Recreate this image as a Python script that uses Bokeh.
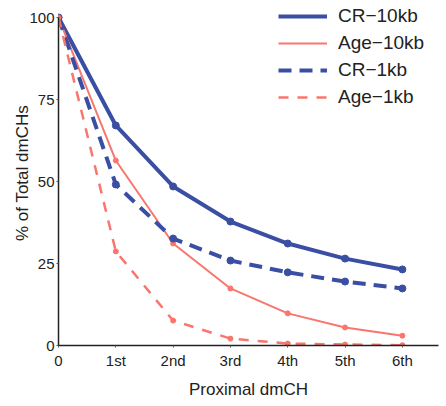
from bokeh.plotting import figure
from bokeh.models import Range1d, Legend, LegendItem, FixedTicker
from bokeh.embed import file_html
from bokeh.resources import INLINE

positions = [0, 1, 2, 3, 4, 5, 6]
tick_labels = ["0", "1st", "2nd", "3rd", "4th", "5th", "6th"]
y_ticks = [0, 25, 50, 75, 100]

cr_10kb = [100, 67.1, 48.5, 37.8, 31.1, 26.5, 23.2]
age_10kb = [100, 56.4, 31.1, 17.4, 9.8, 5.5, 3.0]
cr_1kb = [100, 49.1, 32.6, 25.9, 22.3, 19.5, 17.4]
age_1kb = [100, 28.7, 7.6, 2.1, 0.6, 0.3, 0.1]

BLUE = "#3A4FA3"
RED = "#F8766D"
FONT = "Liberation Sans"
TXT = "#222222"

p = figure(width=446, height=406, output_backend="svg", toolbar_location=None,
           x_range=Range1d(0, 6.63), y_range=Range1d(0, 105.2),
           min_border_left=58, min_border_right=8, min_border_top=0, min_border_bottom=61)
p.outline_line_color = None
p.xgrid.visible = False
p.ygrid.visible = False
p.background_fill_color = "white"
p.border_fill_color = "white"

series = [
    ("CR\u221210kb", cr_10kb, BLUE, 4, None, 7),
    ("Age\u221210kb", age_10kb, RED, 2, None, 5),
    ("CR\u22121kb", cr_1kb, BLUE, 4, "13 8", 7),
    ("Age\u22121kb", age_1kb, RED, 2.5, "10 9", 5),
]
items = []
for name, vals, col, lw, dash, sz in series:
    kw = {}
    if dash:
        kw["line_dash"] = dash
    r = p.line(positions, vals, line_color=col, line_width=lw, **kw)
    p.scatter(positions, vals, size=sz, fill_color=col, line_color=col)
    items.append(LegendItem(label=name, renderers=[r]))

legend = Legend(items=items, location=(220, 237), border_line_color=None,
                background_fill_alpha=0, padding=0, margin=0, spacing=5,
                label_height=20, glyph_height=20, glyph_width=49, label_standoff=11,
                label_text_font=FONT, label_text_font_size="19px", label_text_color=TXT)
p.add_layout(legend, "center")

for ax in (p.xaxis[0], p.yaxis[0]):
    ax.axis_line_color = TXT
    ax.axis_line_width = 1.5
    ax.major_tick_line_color = "#555555"
    ax.major_tick_out = 2
    ax.major_tick_in = 0
    ax.minor_tick_line_color = None
    ax.major_label_text_font = FONT
    ax.major_label_text_font_size = "15px"
    ax.major_label_text_color = TXT
    ax.axis_label_text_font = FONT
    ax.axis_label_text_font_size = "17px"
    ax.axis_label_text_font_style = "normal"
    ax.axis_label_text_color = TXT

p.xaxis.ticker = FixedTicker(ticks=positions)
p.xaxis.major_label_overrides = {i: t for i, t in zip(positions, tick_labels)}
p.xaxis.major_label_standoff = 4
p.xaxis.axis_label = "Proximal dmCH"
p.xaxis.axis_label_standoff = 8

p.yaxis.ticker = FixedTicker(ticks=y_ticks)
p.yaxis.bounds = (0, 100)
p.yaxis.major_label_standoff = 2
p.yaxis.axis_label = "% of Total dmCHs"
p.yaxis.axis_label_standoff = -6

open("out.html", "w").write(file_html(p, INLINE))
